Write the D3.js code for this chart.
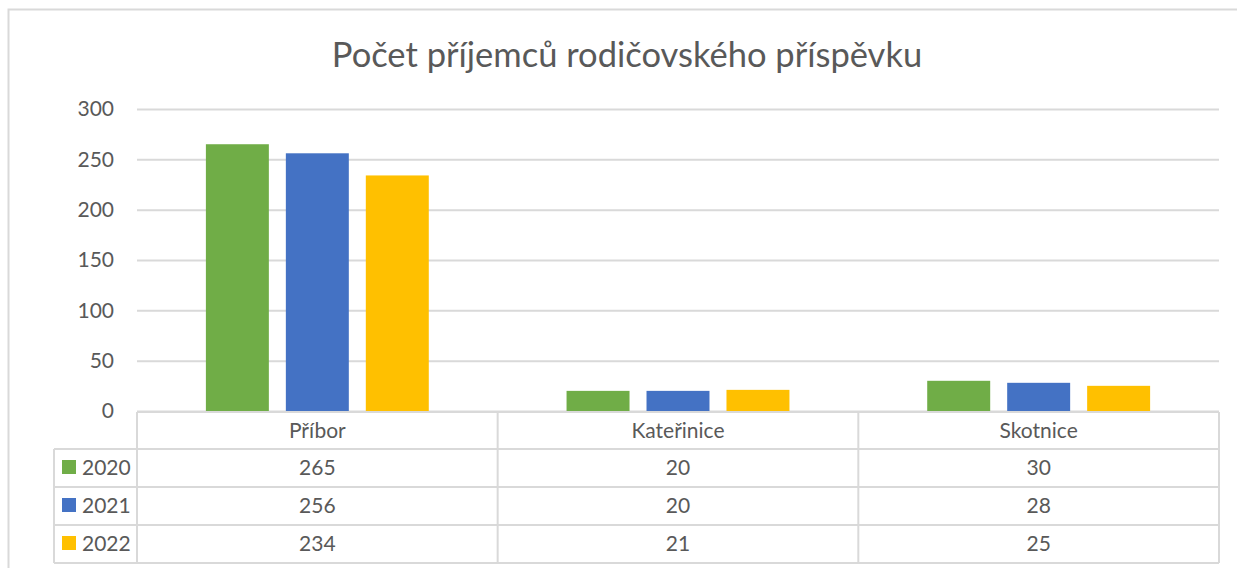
<!DOCTYPE html>
<html>
<head>
<meta charset="utf-8">
<script src="https://cdn.jsdelivr.net/npm/d3@7"></script>
<style>
  html, body { margin: 0; padding: 0; background: #fff; }
  svg { display: block; font-family: Lato, 'Open Sans', sans-serif; }
</style>
</head>
<body>
<svg id="chart" width="1237" height="568"></svg>
<script>
var title = 'Počet příjemců rodičovského příspěvku';
var categories = ['Příbor', 'Kateřinice', 'Skotnice'];
var years = ['2020', '2021', '2022'];
var values2020 = [265, 20, 30];
var values2021 = [256, 20, 28];
var values2022 = [234, 21, 25];
var yTicks = [0, 50, 100, 150, 200, 250, 300];
var colors = ['#70AD47', '#4472C4', '#FFC000'];

var series = [values2020, values2021, values2022];

var svg = d3.select('#chart');
var textColor = '#595959';
var lineColor = '#D9D9D9';

var plot = { left: 137, right: 1219, top: 109, bottom: 411 };
var table = { top: 412, rowH: 38, headH: 37, legendLeft: 54 };

// chart border (right side runs off the picture)
svg.append('path')
    .attr('d', 'M1240,9.5 H8.5 V570')
    .attr('fill', 'none')
    .attr('stroke', lineColor)
    .attr('stroke-width', 2);

svg.append('text')
    .attr('x', 627)
    .attr('y', 67)
    .attr('text-anchor', 'middle')
    .attr('fill', textColor)
    .attr('font-size', 34.5)
    .text(title);

var x0 = d3.scaleBand()
    .domain(categories)
    .range([plot.left, plot.right])
    .paddingInner(0.382)
    .paddingOuter(0.191);

var x1 = d3.scaleBand()
    .domain(years)
    .range([0, x0.bandwidth()])
    .paddingInner(0.2125);

var y = d3.scaleLinear()
    .domain([0, 300])
    .range([plot.bottom, plot.top]);

var yAxis = svg.append('g')
    .attr('transform', 'translate(' + plot.left + ',0)')
    .call(d3.axisLeft(y).tickValues(yTicks).tickSize(-(plot.right - plot.left)).tickPadding(23));

yAxis.select('.domain').remove();
yAxis.selectAll('.tick line')
    .attr('stroke', lineColor)
    .attr('stroke-width', 2);
yAxis.selectAll('.tick text')
    .attr('fill', textColor)
    .attr('font-size', 21)
    .attr('font-family', 'Lato, sans-serif');

// bars
years.forEach(function(yr, i) {
    svg.append('g')
        .selectAll('rect')
        .data(series[i])
        .enter()
        .append('rect')
        .attr('x', function(d, j) { return x0(categories[j]) + x1(yr); })
        .attr('y', function(d) { return y(d); })
        .attr('width', x1.bandwidth())
        .attr('height', function(d) { return y(0) - y(d); })
        .attr('fill', colors[i]);
});

// data table
var tb = svg.append('g')
    .attr('stroke', lineColor)
    .attr('stroke-width', 2);

var rowTops = years.map(function(yr, i) { return table.top + table.headH + i * table.rowH; });
var tableBottom = table.top + table.headH + years.length * table.rowH;

tb.append('line')
    .attr('x1', plot.left).attr('x2', plot.right)
    .attr('y1', table.top).attr('y2', table.top);
rowTops.concat([tableBottom]).forEach(function(ry) {
    tb.append('line')
        .attr('x1', table.legendLeft).attr('x2', plot.right)
        .attr('y1', ry).attr('y2', ry);
});
var colEdges = [plot.left].concat(categories.map(function(c) {
    return x0(c) - x0.step() * x0.paddingOuter() + x0.step();
}));
colEdges.forEach(function(cx) {
    tb.append('line')
        .attr('x1', cx).attr('x2', cx)
        .attr('y1', table.top).attr('y2', tableBottom);
});
tb.append('line')
    .attr('x1', table.legendLeft).attr('x2', table.legendLeft)
    .attr('y1', rowTops[0]).attr('y2', tableBottom);

var cellText = svg.append('g')
    .attr('fill', textColor)
    .attr('font-size', 21)
    .attr('text-anchor', 'middle');

categories.forEach(function(c) {
    var cx = x0(c) + x0.bandwidth() / 2;
    cellText.append('text')
        .attr('x', cx)
        .attr('y', table.top + table.headH / 2)
        .attr('dy', '0.35em')
        .text(c);
    series.forEach(function(vals, i) {
        cellText.append('text')
            .attr('x', cx)
            .attr('y', rowTops[i] + table.rowH / 2)
            .attr('dy', '0.35em')
            .text(vals[categories.indexOf(c)]);
    });
});

years.forEach(function(yr, i) {
    var cy = rowTops[i] + table.rowH / 2;
    svg.append('rect')
        .attr('x', 62)
        .attr('y', cy - 8)
        .attr('width', 14)
        .attr('height', 14)
        .attr('fill', colors[i]);
    svg.append('text')
        .attr('x', 82)
        .attr('y', cy)
        .attr('dy', '0.35em')
        .attr('fill', textColor)
        .attr('font-size', 21)
        .text(yr);
});
</script>
</body>
</html>
